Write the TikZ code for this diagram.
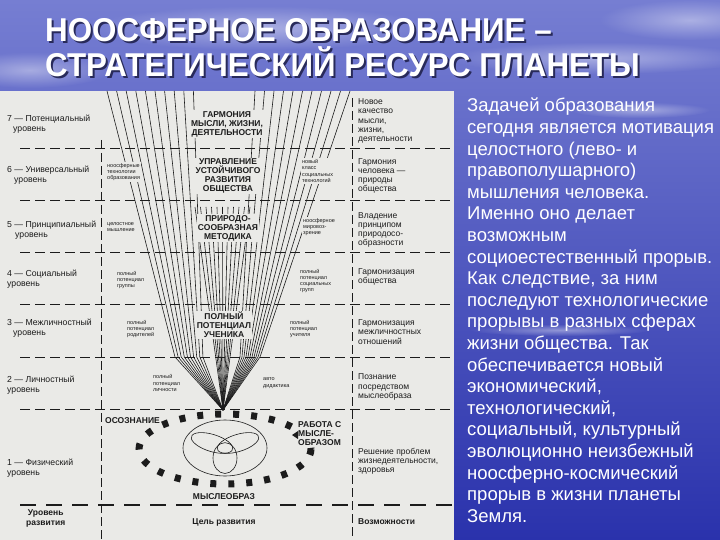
\documentclass[tikz,border=0pt]{standalone}
\usepackage{fontspec}
\setmainfont{Liberation Sans}
\newfontfamily\titlefont[FakeStretch=0.95]{Liberation Sans}
\usetikzlibrary{positioning,calc,fadings}
\definecolor{paper}{RGB}{234,234,231}
\definecolor{ink}{RGB}{28,28,28}
\definecolor{skytop}{RGB}{118,126,210}
\definecolor{skymid}{RGB}{70,80,190}
\definecolor{skybot}{RGB}{42,50,172}
\definecolor{shadowc}{RGB}{40,42,90}
\tikzfading[name=puff,inner color=transparent!20,outer color=transparent!100]
\newcommand{\shadowed}[1]{\makebox[0pt][l]{\hspace{2pt}\raisebox{-2pt}{\textcolor{shadowc}{#1}}}#1}

\begin{document}
\begin{tikzpicture}
[x=1pt,y=-1pt,
    lvl/.style={anchor=west,align=left,inner sep=0pt,text=ink,font=\fontsize{8.7}{10}\selectfont},
    goal/.style={align=center,inner sep=1pt,fill=paper,text=ink,font=\fontsize{8.5}{9}\selectfont\bfseries},
    tiny/.style={anchor=west,align=left,inner sep=1pt,fill=paper,text=ink,font=\fontsize{5.5}{6.3}\selectfont},
    res/.style={anchor=west,align=left,inner sep=0pt,text=ink,font=\fontsize{8.5}{9.2}\selectfont},
    grid/.style={ink,line width=.7pt,dash pattern=on 10pt off 5pt},
    gridv/.style={ink,line width=.6pt,dash pattern=on 9pt off 4pt},
    ray/.style={ink,line width=.6pt},
    dots/.style={ink,line width=7pt,dash pattern=on 6pt off 12pt},
    ttl/.style={anchor=base west,inner sep=0pt,text=white,font=\titlefont\fontsize{33}{38}\selectfont\bfseries}]
\useasboundingbox (0,0) rectangle (720,540);
%% background
\shade[top color=skytop,middle color=skymid,bottom color=skybot] (0,0) rectangle (720,540);
\foreach \cx/\cy/\rx/\ry in {600/58/150/16, 690/20/90/20, 260/28/170/22, 30/70/80/18, 640/110/70/8, 560/330/90/6}
  \fill[white,opacity=.5,path fading=puff] (\cx,\cy) ellipse [x radius=\rx,y radius=\ry];
%% title
\node[ttl] (t1) at (45,42) {\shadowed{НООСФЕРНОЕ ОБРАЗОВАНИЕ –}};
\node[ttl] (t2) at (45,77) {\shadowed{СТРАТЕГИЧЕСКИЙ РЕСУРС ПЛАНЕТЫ}};
%% panel and level grid
\fill[paper] (0,91) rectangle (454,540);
\foreach \y in {148,200,252,304,357,409}
  \draw[grid] (20,\y) -- (454,\y);
\draw[grid,line width=1.8pt,dash pattern=on 16pt off 10pt] (20,505) -- (454,505);
\draw[gridv] (101,140) -- (101,540);
\draw[gridv] (352,98) -- (352,540);
%% fan of rays
\coordinate (apex) at (223,410);
\foreach \i in {0,...,9}
  \draw[ray] (107+9.6*\i,91) -- (175+3.1*\i,357) -- (apex);
\foreach \i in {0,...,10}
  \draw[ray] (255+9.5*\i,91) -- (240+2*\i,357) -- (apex);
\foreach \i in {0,...,10}
  \draw[ray] (195+5.5*\i,207) -- (apex);
%% thought image
\draw[dots] (225,449) ellipse [x radius=86,y radius=35];
\draw[ray] (225,448) ellipse [x radius=42,y radius=28];
\begin{scope}[shift={(225,448)},yscale=.67]
  \foreach \a in {270,30,150}
    \draw[ray,rotate=\a] (15,0) ellipse [x radius=23,y radius=12];
\end{scope}
%% centre column
\node[goal] (g7) at (227,124) {ГАРМОНИЯ\\МЫСЛИ, ЖИЗНИ,\\ДЕЯТЕЛЬНОСТИ};
\node[goal] (g6) at (228,176) {УПРАВЛЕНИЕ\\УСТОЙЧИВОГО\\РАЗВИТИЯ\\ОБЩЕСТВА};
\node[goal] (g5) at (228,228) {ПРИРОДО-\\СООБРАЗНАЯ\\МЕТОДИКА};
\node[goal] (g3) at (224,325) {ПОЛНЫЙ\\ПОТЕНЦИАЛ\\УЧЕНИКА};
\node[goal,anchor=west] (osoz) at (104,421) {ОСОЗНАНИЕ};
\node[goal,anchor=west,align=left] (rab) at (297,434) {РАБОТА С\\МЫСЛЕ-\\ОБРАЗОМ};
\coordinate (tip) at (292,435);
\fill[ink] (tip) -- ++(6,-4) -- ++(0,8) -- cycle;
\node[goal] (mysl) at (224,497) {МЫСЛЕОБРАЗ};
\node[goal,font=\fontsize{8.5}{9}\selectfont\bfseries] (cel) at (224,522) {Цель развития};
%% small labels
\node[tiny] (s6) at (106,172) {ноосферные\\технологии\\образования};
\node[tiny] (s5) at (106,227) {целостное\\мышление};
\node[tiny] (s4) at (116,280) {полный\\потенциал\\группы};
\node[tiny] (s3) at (126,329) {полный\\потенциал\\родителей};
\node[tiny] (s2) at (152,383) {полный\\потенциал\\личности};
\node[tiny] (p6) at (301,171) {новый\\класс\\социальных\\технологий};
\node[tiny] (p5) at (302,227) {ноосферное\\мировоз-\\зрение};
\node[tiny] (p4) at (299,281) {полный\\потенциал\\социальных\\групп};
\node[tiny] (p3) at (289,329) {полный\\потенциал\\учителя};
\node[tiny] (p2) at (262,383) {авто\\дидактика};
%% levels
\node[lvl] (u7) at (7,124) {7 — Потенциальный\\\hspace*{6pt}уровень};
\node[lvl] (u6) at (7,175) {6 — Универсальный\\\hspace*{7pt}уровень};
\node[lvl] (u5) at (7,230) {5 — Принципиальный\\\hspace*{8pt}уровень};
\node[lvl] (u4) at (7,279) {4 — Социальный\\уровень};
\node[lvl] (u3) at (7,328) {3 — Межличностный\\\hspace*{6pt}уровень};
\node[lvl] (u2) at (7,385) {2 — Личностный\\уровень};
\node[lvl] (u1) at (7,468) {1 — Физический\\уровень};
\node[lvl,align=center,font=\fontsize{8.5}{10}\selectfont\bfseries] (u0) at (26,518) {Уровень\\развития};
%% outcomes
\node[res] (r7) at (358,121) {Новое\\качество\\мысли,\\жизни,\\деятельности};
\node[res] (r6) at (358,176) {Гармония\\человека —\\природы\\общества};
\node[res] (r5) at (358,230) {Владение\\принципом\\природосо-\\образности};
\node[res] (r4) at (358,277) {Гармонизация\\общества};
\node[res] (r3) at (358,332) {Гармонизация\\межличностных\\отношений};
\node[res] (r2) at (358,387) {Познание\\посредством\\мыслеобраза};
\node[res] (r1) at (358,461) {Решение проблем\\жизнедеятельности,\\здоровья};
\node[res,font=\fontsize{8.5}{9}\selectfont\bfseries] (r0) at (358,522) {Возможности};
%% comment text
\node[anchor=north west,inner sep=0pt,align=left,text=white,
  font=\fontsize{18.5}{21.6}\selectfont] (task) at (467,98)
  {Задачей образования\\сегодня является мотивация\\целостного (лево- и\\правополушарного)\\мышления человека.\\Именно оно делает\\возможным\\социоестественный прорыв.\\Как следствие, за ним\\последуют технологические\\прорывы в разных сферах\\жизни общества. Так\\обеспечивается новый\\экономический,\\технологический,\\социальный, культурный\\эволюционно неизбежный\\ноосферно-космический\\прорыв в жизни планеты\\Земля.};
\end{tikzpicture}
\end{document}
